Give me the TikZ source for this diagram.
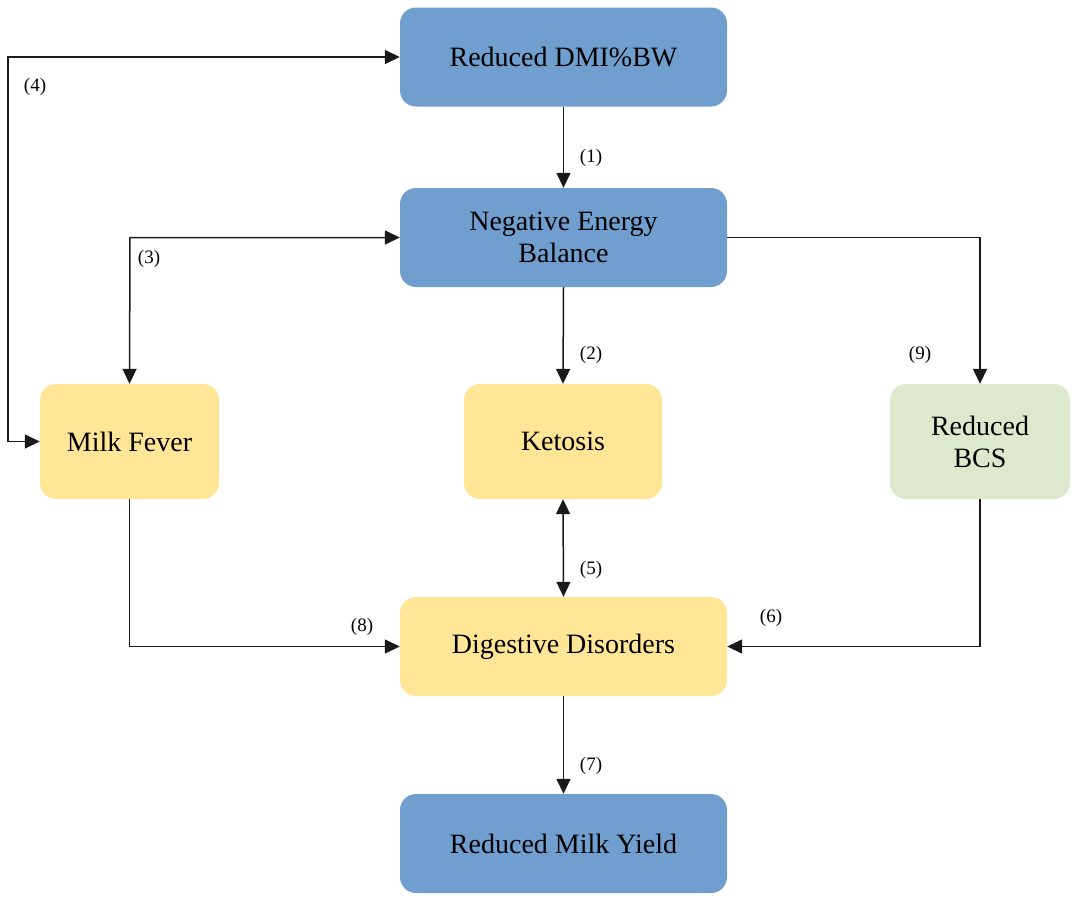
\documentclass[tikz,border=0pt]{standalone}
\usepackage{fontspec}
\setmainfont{Liberation Serif}
\newfontfamily\tnr{Liberation Serif}
\usetikzlibrary{arrows.meta}
\definecolor{boxblue}{HTML}{6F9ECF}
\definecolor{boxyellow}{HTML}{FEE696}
\definecolor{boxgreen}{HTML}{DEE8CC}
\tikzset{
  box/.style={rectangle, rounded corners=16pt, inner sep=0pt, align=center,
    font=\tnr\fontsize{28}{32}\selectfont, text=black},
  bluebox/.style={box, fill=boxblue, minimum width=327pt, minimum height=99pt},
  yelbox/.style={box, fill=boxyellow},
  conn/.style={line width=1.5pt, draw=black!90},
  tip/.style={-{Triangle[length=15pt,width=14pt]}},
  both/.style={{Triangle[length=15pt,width=14pt]}-{Triangle[length=15pt,width=14pt]}},
  lab/.style={font=\tnr\fontsize{19}{21}\selectfont, inner sep=0pt}
}
\begin{document}
\begin{tikzpicture}[x=1pt,y=-1pt]
\useasboundingbox (0,0) rectangle (1084,898);
\node[bluebox] (dmi) at (563.5,57) {Reduced DMI\%BW};
\node[bluebox] (neb) at (563.5,237.5) {Negative Energy\\Balance};
\node[yelbox, minimum width=179pt, minimum height=115pt] (mf) at (129.5,441.5) {Milk Fever};
\node[yelbox, minimum width=198pt, minimum height=115pt] (ket) at (563,441.5) {Ketosis};
\node[box, fill=boxgreen, minimum width=180pt, minimum height=115pt] (bcs) at (980,441.5) {Reduced\\BCS};
\node[bluebox, fill=boxyellow] (dd) at (563.5,646.5) {Digestive Disorders};
\node[bluebox] (rmy) at (563.5,843.5) {Reduced Milk Yield};

\coordinate (c4) at (8,57);
\coordinate (c3) at (130,237.5);

\draw[conn, both] (mf.west) -| (c4) -- (dmi.west);
\draw[conn, both] (mf.north) -- (c3) -- (neb.west);
\draw[conn, tip] (dmi.south) -- (neb.north);
\draw[conn, tip] (neb.south) -- (ket.north);
\draw[conn, tip] (neb.east) -| (bcs.north);
\draw[conn, both] (ket.south) -- (dd.north);
\draw[conn, tip] (mf.south) |- (dd.west);
\draw[conn, tip] (bcs.south) |- (dd.east);
\draw[conn, tip] (dd.south) -- (rmy.north);

\node[lab] (l4) at (35,87) {(4)};
\node[lab] (l1) at (591,158) {(1)};
\node[lab] (l3) at (149,259) {(3)};
\node[lab] (l2) at (591,355) {(2)};
\node[lab] (l9) at (920,355) {(9)};
\node[lab] (l5) at (591,570) {(5)};
\node[lab] (l8) at (362,627) {(8)};
\node[lab] (l6) at (771,618) {(6)};
\node[lab] (l7) at (591,766) {(7)};
\end{tikzpicture}
\end{document}
